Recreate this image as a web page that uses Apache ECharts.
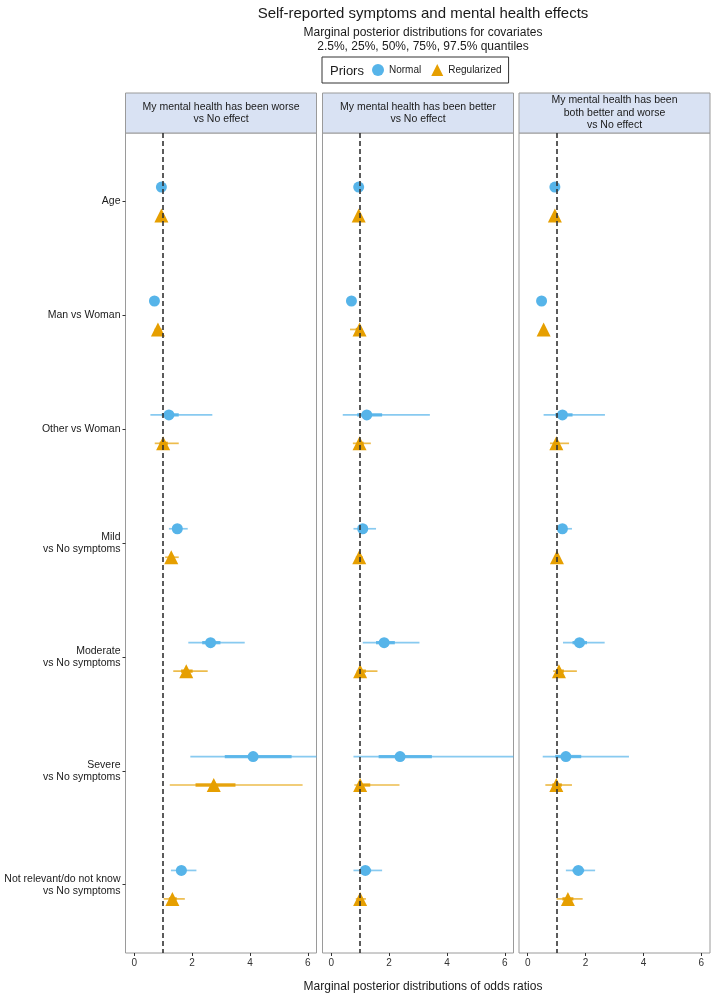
<!DOCTYPE html>
<html>
<head>
<meta charset="utf-8">
<script src="https://cdn.jsdelivr.net/npm/echarts@6/dist/echarts.min.js"></script>
<style>html,body{margin:0;padding:0;background:#fff;}#chart{width:716px;height:997px;}</style>
</head>
<body>
<div id="chart"></div>
<script>
// ---------- data ----------
const categories = ['Age', 'Man vs Woman', 'Other vs Woman', 'Mild\nvs No symptoms', 'Moderate\nvs No symptoms', 'Severe\nvs No symptoms', 'Not relevant/do not know\nvs No symptoms'];
const panelTitles = ['My mental health has been worse\nvs No effect', 'My mental health has been better\nvs No effect', 'My mental health has been\nboth better and worse\nvs No effect'];
const priors = ['Normal', 'Regularized'];
const xTicks = [0, 2, 4, 6];
// quantiles per category: [2.5%, 25%, 50%, 75%, 97.5%]
const worseNormal = [
  [0.88, 0.92, 0.94, 0.96, 1.00],
  [0.60, 0.66, 0.70, 0.74, 0.80],
  [0.56, 0.95, 1.20, 1.54, 2.70],
  [1.20, 1.38, 1.49, 1.62, 1.85],
  [1.87, 2.35, 2.64, 2.98, 3.82],
  [1.94, 3.13, 4.11, 5.44, 7.50],
  [1.27, 1.48, 1.63, 1.80, 2.15]
];
const worseReg = [
  [0.88, 0.92, 0.94, 0.96, 1.00],
  [0.70, 0.77, 0.82, 0.88, 0.96],
  [0.71, 0.88, 1.00, 1.16, 1.54],
  [1.07, 1.20, 1.28, 1.38, 1.54],
  [1.35, 1.62, 1.80, 2.02, 2.54],
  [1.23, 2.12, 2.75, 3.50, 5.82],
  [1.02, 1.20, 1.32, 1.47, 1.75]
];
const betterNormal = [
  [0.88, 0.92, 0.95, 0.98, 1.02],
  [0.60, 0.66, 0.70, 0.75, 0.82],
  [0.40, 0.90, 1.23, 1.76, 3.41],
  [0.77, 0.95, 1.09, 1.25, 1.55],
  [1.09, 1.55, 1.83, 2.20, 3.05],
  [0.77, 1.64, 2.38, 3.48, 7.50],
  [0.77, 1.00, 1.18, 1.38, 1.76]
];
const betterReg = [
  [0.90, 0.93, 0.95, 0.97, 1.00],
  [0.65, 0.85, 0.98, 1.03, 1.08],
  [0.75, 0.90, 0.98, 1.12, 1.37],
  [0.85, 0.92, 0.97, 1.02, 1.10],
  [0.88, 0.94, 1.00, 1.20, 1.60],
  [0.80, 0.92, 1.00, 1.35, 2.36],
  [0.85, 0.93, 1.00, 1.08, 1.20]
];
const bothNormal = [
  [0.88, 0.91, 0.94, 0.97, 1.00],
  [0.40, 0.45, 0.48, 0.52, 0.58],
  [0.55, 0.95, 1.20, 1.55, 2.67],
  [1.00, 1.10, 1.20, 1.30, 1.53],
  [1.22, 1.55, 1.79, 2.05, 2.66],
  [0.52, 0.95, 1.32, 1.85, 3.50],
  [1.32, 1.55, 1.75, 1.95, 2.33]
];
const bothReg = [
  [0.88, 0.91, 0.94, 0.97, 1.00],
  [0.48, 0.52, 0.55, 0.58, 0.62],
  [0.77, 0.90, 0.99, 1.10, 1.43],
  [0.92, 0.97, 1.01, 1.05, 1.12],
  [0.88, 0.98, 1.08, 1.25, 1.70],
  [0.61, 0.85, 0.99, 1.18, 1.53],
  [1.00, 1.20, 1.39, 1.58, 1.90]
];
const panelData = [[worseNormal, worseReg], [betterNormal, betterReg], [bothNormal, bothReg]];

// ---------- styling ----------
const FONT = "'Liberation Sans', Arial, Helvetica, sans-serif";
const colors = ['#56B4E9', '#E69F00'];
const symbols = ['circle', 'triangle'];
const symbolSizes = [11, 14];
const dodge = [-0.125, 0.125];
const panelLeft = [125.5, 322.5, 519];
const panelWidth = 191;
const plotTop = 133, plotBottom = 953;
const stripTop = 93;

const chart = echarts.init(document.getElementById('chart'));

function renderInterval(params, api) {
  const cs = params.coordSys;
  const y = api.value(5);
  const cx = v => Math.max(cs.x, Math.min(cs.x + cs.width, v));
  const a = api.coord([api.value(0), y]);
  const b = api.coord([api.value(4), y]);
  const c = api.coord([api.value(1), y]);
  const d = api.coord([api.value(3), y]);
  const color = api.visual('color');
  return {
    type: 'group',
    children: [
      { type: 'line', shape: { x1: cx(a[0]), y1: a[1], x2: cx(b[0]), y2: b[1] }, style: { stroke: color, lineWidth: 1.7, opacity: 0.7 } },
      { type: 'line', shape: { x1: cx(c[0]), y1: c[1], x2: cx(d[0]), y2: d[1] }, style: { stroke: color, lineWidth: 3.3, opacity: 0.9 } }
    ]
  };
}

const grids = [], xAxes = [], yAxes = [], series = [], graphics = [];
panelData.forEach((pd, p) => {
  grids.push({ left: panelLeft[p], width: panelWidth, top: plotTop, height: plotBottom - plotTop, show: true, borderColor: '#9a9a9a', borderWidth: 1, backgroundColor: '#fff' });
  xAxes.push({
    type: 'value', gridIndex: p, min: -0.3, max: 6.3, position: 'bottom',
    axisLine: { show: false, onZero: false }, splitLine: { show: false },
    axisTick: { show: true, length: 3, lineStyle: { color: '#333' }, customValues: xTicks },
    axisLabel: { show: true, customValues: xTicks, fontSize: 10, color: '#333', fontFamily: FONT, margin: 5 }
  });
  yAxes.push({
    type: 'value', gridIndex: p, min: -0.6, max: categories.length - 0.4, inverse: true, position: 'left',
    axisLine: { show: false, onZero: false }, splitLine: { show: false },
    axisTick: { show: p === 0, length: 3, lineStyle: { color: '#333' }, customValues: categories.map((c, i) => i) },
    axisLabel: {
      show: p === 0, customValues: categories.map((c, i) => i),
      formatter: v => categories[Math.round(v)] || '',
      fontSize: 10.5, lineHeight: 12, color: '#1a1a1a', fontFamily: FONT, align: 'right', margin: 5
    }
  });
  pd.forEach((arr, k) => {
    series.push({
      name: priors[k], type: 'scatter', xAxisIndex: p, yAxisIndex: p, z: 4,
      symbol: symbols[k], symbolSize: symbolSizes[k],
      itemStyle: { color: colors[k], opacity: 1 },
      data: arr.map((q, i) => [q[2], i + dodge[k]])
    });
    series.push({
      name: priors[k], type: 'custom', xAxisIndex: p, yAxisIndex: p, z: 3,
      renderItem: renderInterval,
      itemStyle: { color: colors[k] },
      encode: { x: 2, y: 5 },
      data: arr.map((q, i) => [q[0], q[1], q[2], q[3], q[4], i + dodge[k]])
    });
  });
  // reference line at odds ratio 1
  series.push({
    type: 'line', xAxisIndex: p, yAxisIndex: p, data: [], z: 6,
    markLine: {
      silent: true, symbol: ['none', 'none'], label: { show: false },
      lineStyle: { color: '#333', width: 1.6, type: [5, 3] },
      data: [{ xAxis: 1 }]
    }
  });
  // facet strip
  graphics.push({
    type: 'rect', shape: { x: panelLeft[p], y: stripTop, width: panelWidth, height: plotTop - stripTop },
    style: { fill: '#d9e2f3', stroke: '#9a9a9a', lineWidth: 1 }
  });
  graphics.push({
    type: 'text', x: panelLeft[p] + panelWidth / 2, y: (stripTop + plotTop) / 2,
    style: { text: panelTitles[p], fill: '#1a1a1a', font: '10.5px ' + FONT, align: 'center', verticalAlign: 'middle', lineHeight: 12.5 }
  });
});

graphics.push({
  type: 'text', x: 330, y: 71,
  style: { text: 'Priors', fill: '#1a1a1a', font: '13px ' + FONT, align: 'left', verticalAlign: 'middle' }
});

chart.setOption({
  backgroundColor: '#fff',
  animation: false,
  textStyle: { fontFamily: FONT },
  title: [
    { text: 'Self-reported symptoms and mental health effects', left: 418, top: 1, textAlign: 'center',
      textStyle: { fontSize: 15, fontWeight: 'normal', color: '#1a1a1a', fontFamily: FONT } },
    { text: 'Marginal posterior distributions for covariates\n2.5%, 25%, 50%, 75%, 97.5% quantiles', left: 418, top: 21, textAlign: 'center',
      textStyle: { fontSize: 12, lineHeight: 13.5, fontWeight: 'normal', color: '#1a1a1a', fontFamily: FONT } },
    { text: 'Marginal posterior distributions of odds ratios', left: 418, top: 976, textAlign: 'center',
      textStyle: { fontSize: 12, fontWeight: 'normal', color: '#1a1a1a', fontFamily: FONT } }
  ],
  legend: {
    left: 322, top: 57, orient: 'horizontal',
    data: [{ name: 'Normal', icon: 'circle' }, { name: 'Regularized', icon: 'triangle' }],
    itemWidth: 12, itemHeight: 12, itemGap: 10,
    borderColor: '#333', borderWidth: 1, padding: [7, 7, 7, 50],
    textStyle: { fontSize: 10, color: '#1a1a1a', fontFamily: FONT }
  },
  grid: grids,
  xAxis: xAxes,
  yAxis: yAxes,
  series: series,
  graphic: graphics
});
</script>
</body>
</html>
